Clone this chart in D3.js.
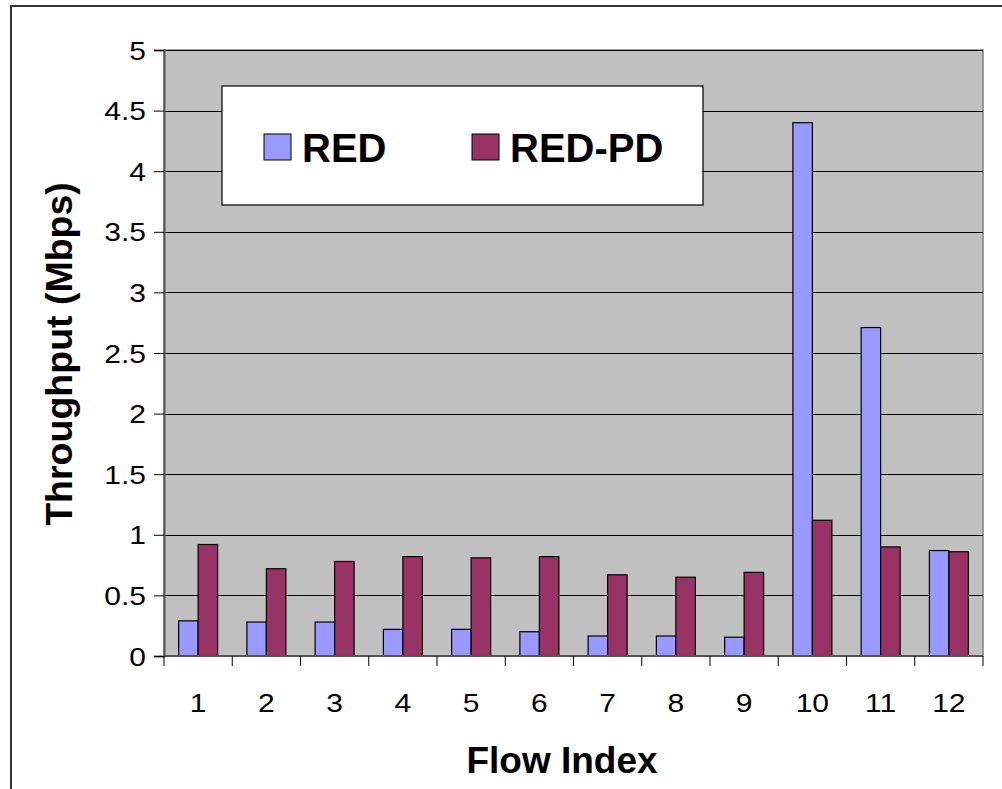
<!DOCTYPE html>
<html>
<head>
<meta charset="utf-8">
<script src="https://cdn.jsdelivr.net/npm/d3@7"></script>
<style>
  html, body { margin: 0; padding: 0; background: #fff; }
  svg { display: block; font-family: "Liberation Sans", Arial, sans-serif; }
</style>
</head>
<body>
<svg id="chart" width="1002" height="789"></svg>
<script>
const categories = ["1","2","3","4","5","6","7","8","9","10","11","12"];
const seriesNames = ["RED", "RED-PD"];
const redValues   = [0.29, 0.28, 0.28, 0.22, 0.22, 0.20, 0.165, 0.165, 0.155, 4.40, 2.71, 0.87];
const redpdValues = [0.92, 0.72, 0.78, 0.82, 0.81, 0.82, 0.67, 0.65, 0.69, 1.12, 0.90, 0.86];
const yTicks = [0, 0.5, 1, 1.5, 2, 2.5, 3, 3.5, 4, 4.5, 5];
const colors = ["#9999FF", "#993366"];

const svg = d3.select("#chart");
const plot = { left: 164, right: 983, top: 50, bottom: 656 };

// outer frame (top and left edges visible)
svg.append("path")
  .attr("d", `M11,800 L11,6 L1010,6`)
  .attr("fill", "none").attr("stroke", "#333").attr("stroke-width", 2);

const x = d3.scaleBand().domain(categories).range([plot.left, plot.right]).padding(0);
const y = d3.scaleLinear().domain([0, 5]).range([plot.bottom, plot.top]);

// plot background
svg.append("rect")
  .attr("x", plot.left).attr("y", plot.top)
  .attr("width", plot.right - plot.left).attr("height", plot.bottom - plot.top)
  .attr("fill", "#C0C0C0").attr("stroke", "#808080").attr("stroke-width", 1.5);

// gridlines
svg.append("g").selectAll("line").data(yTicks.filter(d => d > 0)).join("line")
  .attr("x1", plot.left).attr("x2", plot.right)
  .attr("y1", d => Math.round(y(d)) + 0.5).attr("y2", d => Math.round(y(d)) + 0.5)
  .attr("stroke", "#000").attr("stroke-width", 1);

// bars
const barW = x.bandwidth() / 3.5;
const data = categories.map((c, i) => ({ c, vals: [redValues[i], redpdValues[i]] }));
const groups = svg.append("g").selectAll("g").data(data).join("g");
groups.selectAll("rect").data(d => d.vals.map((v, k) => ({ c: d.c, v, k }))).join("rect")
  .attr("x", d => x(d.c) + x.bandwidth() / 2 - barW + d.k * barW)
  .attr("y", d => y(d.v))
  .attr("width", barW)
  .attr("height", d => y(0) - y(d.v))
  .attr("fill", d => colors[d.k])
  .attr("stroke", "#000").attr("stroke-width", 1.2);

// y axis
const yAxis = svg.append("g").attr("transform", `translate(${plot.left},0)`)
  .call(d3.axisLeft(y).tickValues(yTicks).tickSize(10).tickPadding(8).tickFormat(d => String(d)));
yAxis.attr("font-family", "Liberation Sans, Arial, sans-serif");
yAxis.select(".domain").attr("stroke", "#555").attr("stroke-width", 2);
yAxis.selectAll(".tick line").attr("stroke", "#000");
yAxis.selectAll(".tick text")
  .attr("x", 0).attr("dy", null).attr("y", 9)
  .attr("transform", "translate(-18,0) scale(1.2,1)")
  .style("font-size", "25px").attr("fill", "#000");

// x axis
svg.append("line")
  .attr("x1", plot.left).attr("x2", plot.right)
  .attr("y1", plot.bottom).attr("y2", plot.bottom)
  .attr("stroke", "#555").attr("stroke-width", 2);
const bounds = categories.map(c => x(c)).concat([x(categories[categories.length - 1]) + x.bandwidth()]);
svg.append("g").selectAll("line").data(bounds).join("line")
  .attr("x1", d => d).attr("x2", d => d)
  .attr("y1", plot.bottom).attr("y2", plot.bottom + 10)
  .attr("stroke", "#000");
svg.append("g").selectAll("text").data(categories).join("text")
  .attr("transform", d => `translate(${x(d) + x.bandwidth() / 2},712) scale(1.2,1)`)
  .attr("text-anchor", "middle")
  .style("font-size", "25px")
  .text(d => d);

// axis titles
svg.append("text")
  .attr("x", 562).attr("y", 773)
  .attr("text-anchor", "middle")
  .style("font-size", "37px").attr("font-weight", "bold")
  .text("Flow Index");
svg.append("text")
  .attr("transform", "translate(72,354) rotate(-90)")
  .attr("text-anchor", "middle")
  .style("font-size", "37.5px").attr("font-weight", "bold")
  .text("Throughput (Mbps)");

// legend
const lg = svg.append("g");
lg.append("rect")
  .attr("x", 222).attr("y", 86).attr("width", 481).attr("height", 119)
  .attr("fill", "#fff").attr("stroke", "#000").attr("stroke-width", 1.2);
const legendX = [264, 472];
seriesNames.forEach((name, i) => {
  lg.append("rect")
    .attr("x", legendX[i]).attr("y", 134).attr("width", 27).attr("height", 26)
    .attr("fill", colors[i]).attr("stroke", "#000").attr("stroke-width", 1);
  lg.append("text")
    .attr("x", legendX[i] + 38).attr("y", 162)
    .style("font-size", "40px").attr("font-weight", "bold")
    .text(name);
});
</script>
</body>
</html>
